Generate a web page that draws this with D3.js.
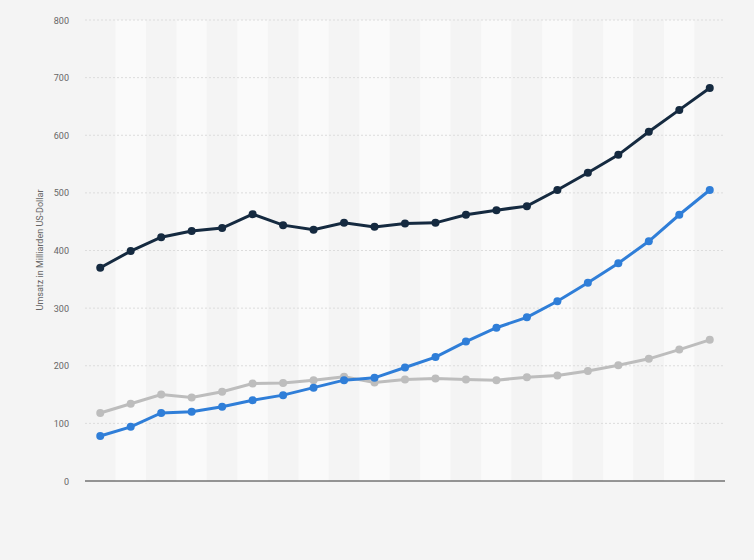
<!DOCTYPE html>
<html><head><meta charset="utf-8">
<script src="https://cdn.jsdelivr.net/npm/d3@7"></script>
<style>body{margin:0;background:#f4f4f4;font-family:Roboto,Arial,sans-serif;}</style>
</head><body>
<script>
var years = d3.range(0, 21).map(String);
var seriesDark = [370,399,423,434,439,463,444,436,448,441,447,448,462,470,477,505,535,566,606,644,682];
var seriesBlue = [78,94,118,120,129,140,149,162,175,179,197,215,242,266,284,312,344,378,416,462,505];
var seriesGray = [118,134,150,145,155,169,170,175,181,171,176,178,176,175,180,183,191,201,212,228,245];
var yTicks = [0,100,200,300,400,500,600,700,800];

var width = 754, height = 560;
var svg = d3.select("body").append("svg").attr("width", width).attr("height", height);
svg.append("rect").attr("width", width).attr("height", height).attr("fill", "#f4f4f4");

var x = d3.scaleBand().domain(years).range([85, 725]);
var y = d3.scaleLinear().domain([0, 800]).range([481, 20]);

// column bands
svg.append("g").selectAll("rect").data(years).enter().append("rect")
  .attr("x", d => x(d)).attr("y", 20)
  .attr("width", x.bandwidth()).attr("height", 461)
  .attr("fill", (d, i) => i % 2 ? "#fafafa" : "#f4f4f4");

// grid
svg.append("g").selectAll("line").data(yTicks.slice(1)).enter().append("line")
  .attr("x1", 85).attr("x2", 725).attr("y1", d => y(d)).attr("y2", d => y(d))
  .attr("stroke", "#dcdcdc").attr("stroke-dasharray", "2,2");
svg.append("line").attr("x1", 85).attr("x2", 725).attr("y1", y(0)).attr("y2", y(0))
  .attr("stroke", "#333");

svg.append("g").selectAll("text").data(yTicks).enter().append("text")
  .attr("x", 69).attr("y", d => y(d) + 3.5).attr("text-anchor", "end")
  .attr("font-size", 9).attr("fill", "#666").text(d => d);

svg.append("text").attr("transform", "translate(43,250) rotate(-90)")
  .attr("text-anchor", "middle").attr("font-size", 9).attr("fill", "#666")
  .text("Umsatz in Milliarden US-Dollar");

var cx = (d, i) => x(years[i]) + x.bandwidth() / 2;
var line = d3.line().x(cx).y(d => y(d));

[[seriesGray, "#bdbdbd"], [seriesBlue, "#2f7ed8"], [seriesDark, "#152a40"]].forEach(function(s) {
  svg.append("path").datum(s[0]).attr("d", line).attr("fill", "none")
    .attr("stroke", s[1]).attr("stroke-width", 3);
  svg.append("g").selectAll("circle").data(s[0]).enter().append("circle")
    .attr("cx", cx).attr("cy", d => y(d)).attr("r", 4).attr("fill", s[1]);
});
</script>
</body></html>
